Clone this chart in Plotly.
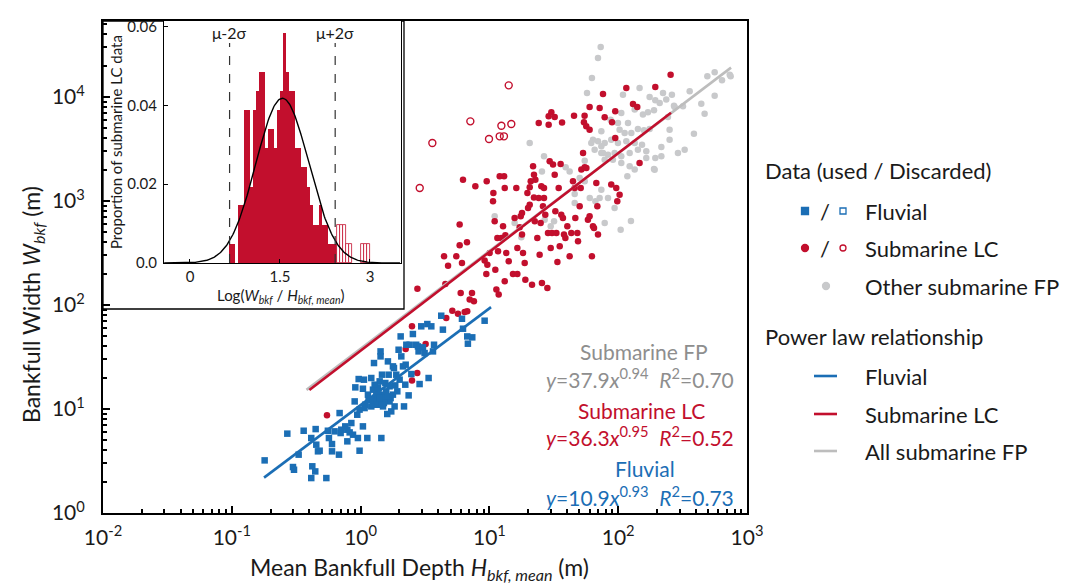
import numpy as np
import plotly.graph_objects as go

W, H = 1068, 585

BLUE = "#1b6eb5"
RED = "#c20f2d"
GRAY_PT = "#c8c9cb"
GRAY_LINE = "#bdbdbd"
GRAY_TXT = "#8e8e8e"
FONT = "Lato"

# ---- scatter data, log10(H_bkf,mean) / log10(W_bkf)
fluvial_logH = [-0.745, -0.569, -0.525, -0.517, -0.481, -0.442, -0.383, -0.375, -0.383, -0.352,
                -0.349, -0.344, -0.331, -0.318, -0.266, -0.254, -0.246, -0.222, -0.222, -0.168,
                -0.163, -0.155, -0.119, -0.103, -0.085, -0.059, -0.046, -0.041, -0.026, -0.015,
                -0.008, 0.018, 0.018, 0.031, 0.036, 0.052, 0.062, 0.083, 0.096, 0.104,
                0.114, 0.122, 0.130, 0.135, 0.140, 0.148, 0.155, 0.155, 0.161, 0.166,
                0.174, 0.174, 0.187, 0.192, 0.199, 0.207, 0.212, 0.218, 0.225, 0.233,
                0.238, 0.251, 0.259, 0.264, 0.269, 0.285, 0.295, 0.303, 0.311, 0.329,
                0.337, 0.347, 0.350, 0.355, 0.373, 0.381, 0.394, 0.406, 0.432, 0.445,
                0.450, 0.458, 0.471, 0.484, 0.497, 0.518, 0.528, 0.549, 0.562, 0.570,
                0.626, 0.639, 0.787, 0.795, 0.828, 0.833, 0.867, 0.963, 0.026, 0.057,
                0.096, 0.122, 0.140, 0.181, 0.212, 0.251, 0.148, 0.166, 0.225, 0.109,
                0.083, -0.008, -0.072, -0.150, -0.202, -0.103, -0.021, 0.316, 0.277]
fluvial_logW = [0.506, 0.763, 0.442, 0.416, 0.561, 0.791, 0.721, 0.449, 0.336, 0.400,
                0.807, 0.657, 0.593, 0.599, 0.336, 0.791, 0.721, 0.663, 0.593, 0.561,
                0.961, 0.769, 0.833, 0.801, 0.775, 0.753, 1.073, 1.208, 0.945, 1.288,
                0.599, 1.195, 0.833, 1.009, 1.041, 0.721, 1.089, 1.298, 1.186, 1.442,
                1.105, 1.154, 1.112, 1.208, 1.073, 1.266, 1.554, 1.506, 0.721, 1.330,
                1.138, 1.025, 1.105, 1.250, 1.170, 0.952, 1.458, 1.330, 1.073, 1.105,
                0.977, 1.410, 1.394, 1.025, 1.227, 1.170, 1.570, 1.282, 1.698, 1.410,
                1.025, 1.234, 1.426, 1.618, 1.131, 1.618, 1.336, 1.721, 1.618, 1.602,
                1.554, 1.240, 1.795, 1.593, 1.538, 1.817, 1.298, 1.795, 1.554, 1.618,
                1.897, 1.763, 1.868, 1.772, 1.698, 1.628, 1.689, 1.849, 1.282, 1.138,
                1.073, 1.041, 1.138, 1.057, 1.122, 1.138, 1.105, 1.041, 1.218, 1.234,
                1.025, 0.994, 0.865, 0.801, 0.785, 0.689, 0.721, 1.506, 1.330]

lc_used_logH = [-0.261, 0.399, 0.350, 0.505, 0.440, 0.399, 0.665, 0.712, 0.756, 0.808, 0.828, 0.880,
                0.441, 0.648, 0.679, 0.658, 0.743, 0.769, 0.769, 0.777, 0.787, 0.795, 0.826, 0.865,
                0.891, 0.963, 0.976, 0.979, 1.002, 1.031, 1.028, 1.041, 1.046, 1.054, 1.062, 1.072,
                1.080, 1.114, 1.106, 1.119, 1.124, 1.131, 1.119, 1.150, 1.183, 1.196, 1.217, 1.209,
                1.217, 1.243, 1.253, 1.261, 1.274, 1.279, 1.295, 1.313, 1.313, 1.321, 1.331, 1.339,
                1.346, 1.346, 1.352, 1.357, 1.372, 1.390, 1.398, 1.403, 1.408, 1.416, 1.424, 1.434,
                1.450, 1.455, 1.468, 1.476, 1.486, 1.494, 1.507, 1.512, 1.520, 1.528, 1.538, 1.546,
                1.553, 1.558, 1.571, 1.579, 1.590, 1.605, 1.623, 1.636, 1.649, 1.662, 1.667, 1.683,
                1.688, 1.701, 1.709, 1.714, 1.727, 1.740, 1.753, 1.765, 1.778, 1.796, 1.804, 1.812,
                1.830, 1.838, 1.843, 1.383, 1.424, 1.300, 1.235, 1.253, 1.093, 1.067, 0.984, 0.847,
                2.407, 2.288, 2.063, 1.882, 2.115, 2.148, 1.778, 1.856, 1.657, 1.739, 1.977, 1.895,
                1.734, 1.752, 1.778, 1.952, 1.977, 2.166, 1.946, 1.985, 2.011, 1.993,
                1.383, 1.460, 1.460, 1.481, 1.507, 1.564]
lc_used_logW = [0.939, 1.795, 1.577, 1.625, 1.346, 1.275, 1.875, 1.945, 1.916, 1.932, 1.939, 2.035,
                2.157, 2.468, 2.378, 2.202, 2.468, 2.773, 2.574, 2.116, 2.404, 3.205, 2.603, 2.116,
                3.141, 2.427, 2.298, 3.189, 2.500, 3.077, 2.997, 2.805, 2.340, 2.148, 2.644, 2.100,
                3.237, 3.237, 2.757, 3.125, 2.670, 2.500, 2.228, 2.420, 2.298, 2.837, 2.298, 3.125,
                2.548, 2.853, 2.885, 2.500, 2.404, 2.244, 3.077, 2.965, 3.132, 3.189, 2.196, 3.334,
                3.253, 3.035, 2.805, 3.205, 2.644, 2.484, 2.789, 3.141, 2.212, 2.949, 3.029, 2.869,
                2.164, 2.693, 3.382, 2.548, 2.693, 3.350, 3.253, 2.901, 2.693, 2.414, 3.125, 2.564,
                3.356, 2.869, 2.837, 2.677, 2.644, 2.757, 2.468, 2.693, 3.189, 3.125, 2.837, 2.693,
                2.612, 2.949, 3.125, 3.302, 3.462, 3.324, 3.317, 2.821, 2.853, 2.468, 2.757, 2.741,
                3.173, 2.949, 2.677, 3.029, 3.125, 2.933, 2.747, 2.677, 2.644, 2.516, 2.388, 2.052,
                4.215, 4.097, 4.087, 4.029, 3.933, 3.904, 3.904, 3.894, 3.821, 3.821, 3.863, 3.805,
                3.757, 3.718, 3.686, 3.757, 3.606, 3.366, 3.158, 3.125, 3.061, 2.997,
                3.750, 3.734, 3.814, 3.853, 3.808, 3.756]

lc_disc_logH = [1.150, 0.852, 1.093, 1.170, 0.997, 1.080, 1.113, 0.557, 0.459]
lc_disc_logW = [4.112, 3.766, 3.724, 3.740, 3.596, 3.622, 3.622, 3.558, 3.125]

fp_other_logH = [1.864, 1.843, 1.796, 1.758, 2.037, 2.166, 2.244, 2.288, 2.348, 2.417, 2.322, 2.278,
                 2.231, 2.192, 2.128, 2.076, 2.024, 1.998, 1.941, 1.869, 2.011, 2.050, 2.102, 2.153,
                 2.200, 2.244, 1.804, 1.843, 1.895, 1.946, 1.998, 2.063, 2.128, 2.185, 1.817, 1.869,
                 1.921, 1.972, 2.024, 2.089, 2.153, 2.218, 1.895, 1.959, 2.024, 2.089, 2.128, 2.071,
                 2.278, 2.218, 2.288, 2.335, 2.335, 2.399, 2.399, 2.386, 2.438, 2.503, 2.555, 2.645,
                 2.671, 2.692, 2.749, 2.806, 2.873, 2.749, 2.588, 2.516, 2.464, 2.433, 2.373, 1.921,
                 1.972, 1.869, 1.313, 1.424, 1.408, 1.592, 1.623, 1.740, 1.791, 1.882, 1.869, 1.701,
                 1.740, 1.779, 1.823, 1.856, 1.662, 1.041, 1.196, 1.248, 1.476, 1.429, 1.502, 1.662,
                 2.099, 2.019, 1.895, 2.283, 2.866]
fp_other_logW = [4.481, 4.375, 4.183, 4.039, 4.023, 4.087, 4.000, 3.968, 4.039, 4.023, 3.943, 3.872,
                 3.853, 3.831, 3.879, 3.750, 3.847, 3.750, 3.782, 3.670, 3.686, 3.654, 3.654, 3.693,
                 3.680, 3.693, 3.590, 3.574, 3.558, 3.590, 3.558, 3.574, 3.558, 3.542, 3.494, 3.462,
                 3.446, 3.462, 3.430, 3.462, 3.494, 3.478, 3.398, 3.398, 3.366, 3.334, 3.302, 3.238,
                 3.308, 3.414, 3.414, 3.430, 3.520, 3.590, 3.686, 3.808, 3.904, 3.911, 4.055, 3.936,
                 3.840, 4.199, 4.238, 4.161, 4.199, 4.013, 3.648, 3.494, 3.462, 3.917, 3.975, 3.029,
                 2.933, 3.109, 3.558, 3.430, 3.285, 3.324, 3.285, 3.388, 3.558, 3.462, 3.526, 3.221,
                 3.189, 3.029, 2.997, 3.029, 3.067, 2.853, 2.789, 2.651, 2.757, 2.821, 2.805, 2.981,
                 2.808, 2.724, 2.788, 3.301, 4.215]

# ---- power law fits W = a * H^b and the H range each line is drawn over
fit_fluvial = dict(a=10.9, b=0.93, r2=0.73, hmin=0.178, hmax=10.3)
fit_lc = dict(a=36.3, b=0.95, r2=0.52, hmin=0.40, hmax=257.0)
fit_fp = dict(a=37.9, b=0.94, r2=0.70, hmin=0.38, hmax=752.0)

# ---- inset histogram of log(W/H) for submarine LC data (proportion per 0.05 bin)
bin_w = 0.05
lc_bin_left = [0.65, 0.70, 0.75, 0.80, 0.85, 0.90, 0.95, 1.00, 1.05, 1.10, 1.15, 1.20,
               1.25, 1.30, 1.35, 1.40, 1.45, 1.50, 1.55, 1.60, 1.65, 1.70, 1.75, 1.80,
               1.85, 1.90, 1.95, 2.00, 2.05, 2.10, 2.15, 2.20, 2.25, 2.30, 2.35, 2.40]
lc_prop_used = [0.0049, 0.0049, 0.0, 0.0146, 0.0146, 0.0388, 0.0388, 0.0194, 0.0388, 0.0437, 0.0485, 0.0485,
                0.0291, 0.0340, 0.0340, 0.0291, 0.0388, 0.0437, 0.0583, 0.0485, 0.0437, 0.0437, 0.0291, 0.0291,
                0.0243, 0.0243, 0.0194, 0.0146, 0.0097, 0.0097, 0.0146, 0.0097, 0.0097, 0.0049, 0.0049, 0.0049]
disc_bin_left = [2.45, 2.50, 2.55, 2.60, 2.65, 2.85, 2.90, 2.95]
disc_prop = [0.0097, 0.0097, 0.0097, 0.0049, 0.0049, 0.0049, 0.0049, 0.0049]
lc_mu, lc_sigma, lc_peak = 1.54, 0.44, 0.0418

# ---- geometry (pixels in the 1068x585 canvas)
MAIN_X = (95, 739)
MAIN_Y = (13, 505)
INSET_X = (156, 393)
INSET_Y = (13, 255)
BOX = (95, 13, 396, 301)


def px(x):
    return x / W


def py(y):
    return 1 - y / H


def p10(v):
    return np.power(10.0, np.array(v))


fig = go.Figure()

# main scatter
fig.add_trace(go.Scatter(x=p10(fp_other_logH), y=p10(fp_other_logW), mode="markers",
                         marker=dict(symbol="circle", size=6.5, color=GRAY_PT)))
fig.add_trace(go.Scatter(x=p10(lc_used_logH), y=p10(lc_used_logW), mode="markers",
                         marker=dict(symbol="circle", size=6.5, color=RED)))
fig.add_trace(go.Scatter(x=p10(lc_disc_logH), y=p10(lc_disc_logW), mode="markers",
                         marker=dict(symbol="circle-open", size=7, color=RED, line=dict(width=1.4))))
fig.add_trace(go.Scatter(x=p10(fluvial_logH), y=p10(fluvial_logW), mode="markers",
                         marker=dict(symbol="square", size=6.5, color=BLUE)))

for fit, col in [(fit_fp, GRAY_LINE), (fit_lc, RED), (fit_fluvial, BLUE)]:
    hx = np.array([fit["hmin"], fit["hmax"]])
    fig.add_trace(go.Scatter(x=hx, y=fit["a"] * hx ** fit["b"], mode="lines",
                             line=dict(color=col, width=2.6)))

# inset histogram
fig.add_trace(go.Bar(x=lc_bin_left, y=lc_prop_used, width=bin_w, offset=0,
                     marker=dict(color=RED, line=dict(width=0)),
                     xaxis="x2", yaxis="y2"))
fig.add_trace(go.Bar(x=disc_bin_left, y=disc_prop, width=bin_w, offset=0,
                     marker=dict(color="white", line=dict(color=RED, width=0.8)),
                     xaxis="x2", yaxis="y2"))
gx = np.linspace(-0.43, 3.5, 300)
fig.add_trace(go.Scatter(x=gx, y=lc_peak * np.exp(-0.5 * ((gx - lc_mu) / lc_sigma) ** 2),
                         mode="lines", line=dict(color="black", width=1.4),
                         xaxis="x2", yaxis="y2"))

shapes = []
# white box behind the inset
shapes.append(dict(type="rect", xref="paper", yref="paper", layer="below",
                   x0=px(BOX[0]), x1=px(BOX[2]), y0=py(BOX[3]), y1=py(BOX[1]),
                   fillcolor="white", line=dict(color="black", width=1.3)))
for k in (-2, 2):
    xv = lc_mu + k * lc_sigma
    shapes.append(dict(type="line", xref="x2", yref="y2", x0=xv, x1=xv, y0=0, y1=0.0558,
                       line=dict(color="#333333", width=1.2, dash="dash")))

annotations = []


def ann(text, x, y, size, color="#1a1a1a", xanchor="center", angle=0, xref="paper", yref="paper"):
    annotations.append(dict(text=text, x=px(x) if xref == "paper" else x,
                            y=py(y) if yref == "paper" else y,
                            xref=xref, yref=yref, xanchor=xanchor, yanchor="middle",
                            showarrow=False, textangle=angle,
                            font=dict(family=FONT, size=size, color=color)))


ann("μ-2σ", lc_mu - 2 * lc_sigma, 0.0585, 16, xref="x2", yref="y2")
ann("μ+2σ", lc_mu + 2 * lc_sigma, 0.0585, 16, xref="x2", yref="y2")

# axis titles
ann("Bankfull Width <i>W</i><sub><i>bkf</i></sub> (m)", 24, 297, 23, angle=-90)
ann("Mean Bankfull Depth <i>H</i><sub><i>bkf, mean</i></sub> (m)", 411, 560, 23)
ann("Proportion of submarine LC data", 108, 134, 15, angle=-90)
ann("Log(<i>W</i><sub><i>bkf</i></sub> / <i>H</i><sub><i>bkf, mean</i></sub>)", 272, 288, 15)

# fit labels
def eq(fit):
    return ("<i>y</i>=%.1f<i>x</i><sup>%.2f</sup>&nbsp;&nbsp;<i>R</i><sup>2</sup>=%.2f"
            % (fit["a"], fit["b"], fit["r2"]))


FIT = 21
ann("Submarine FP", 636, 343, FIT, GRAY_TXT)
ann(eq(fit_fp), 632, 370, FIT, GRAY_TXT)
ann("Submarine LC", 633, 402, FIT, RED)
ann(eq(fit_lc), 632, 428, FIT, RED)
ann("Fluvial", 637, 460, FIT, BLUE)
ann(eq(fit_fluvial), 632, 488, FIT, BLUE)

# hand-built legend
LEG = 22
ann("Data (used / Discarded)", 755, 162, LEG, xanchor="left")
ann("Power law relationship", 755, 328, LEG, xanchor="left")
for text, yy in [("Fluvial", 203), ("Submarine LC", 240), ("Other submarine FP", 278),
                 ("Fluvial", 368), ("Submarine LC", 406), ("All submarine FP", 443)]:
    ann(text, 855, yy, LEG, xanchor="left")
ann("/", 817, 203, LEG)
ann("/", 817, 240, LEG)


def key(kind, x, y, s, color, filled=True):
    d = dict(type=kind, xref="paper", yref="paper",
             x0=px(x - s / 2), x1=px(x + s / 2), y0=py(y + s / 2), y1=py(y - s / 2),
             line=dict(color=color, width=1.3))
    if filled:
        d["fillcolor"] = color
    shapes.append(d)


key("rect", 797, 203, 7, BLUE)
key("rect", 835, 203, 6, BLUE, filled=False)
key("circle", 797, 240, 7, RED)
key("circle", 835, 240, 6, RED, filled=False)
key("circle", 818, 278, 7, GRAY_PT)
for yy, col in [(368, BLUE), (406, RED), (443, GRAY_LINE)]:
    shapes.append(dict(type="line", xref="paper", yref="paper", x0=px(806), x1=px(829),
                       y0=py(yy), y1=py(yy), line=dict(color=col, width=2.6)))

major = [0.01, 0.1, 1, 10, 100, 1000]
minor_x = [m * 10.0 ** e for e in range(-2, 3) for m in range(2, 10)]
minor_y = [m * 10.0 ** e for e in range(0, 5) for m in range(2, 10)]

axis_common = dict(showgrid=False, zeroline=False, showline=True, linecolor="black",
                   mirror=True, ticks="inside", tickcolor="black", automargin=False)
main_font = dict(family=FONT, size=21, color="#1a1a1a")
inset_font = dict(family=FONT, size=15, color="#1a1a1a")

fig.update_layout(
    width=W, height=H,
    margin=dict(l=0, r=0, t=0, b=0),
    paper_bgcolor="white", plot_bgcolor="white",
    showlegend=False, bargap=0,
    font=dict(family=FONT, color="#1a1a1a"),
    xaxis=dict(type="log", domain=[px(MAIN_X[0]), px(MAIN_X[1])], range=[-2, 3],
               tickvals=major, ticktext=["10<sup>%d</sup>" % e for e in range(-2, 4)],
               ticklen=7, tickwidth=1.5, linewidth=2, tickfont=main_font, ticklabelstandoff=5,
               minor=dict(tickvals=minor_x, ticks="inside", ticklen=4, tickcolor="black"),
               **axis_common),
    yaxis=dict(type="log", domain=[py(MAIN_Y[1]), py(MAIN_Y[0])], range=[0, 4.731],
               tickvals=[1, 10, 100, 1000, 10000],
               ticktext=["10<sup>%d</sup>" % e for e in range(0, 5)],
               ticklen=7, tickwidth=1.5, linewidth=2, tickfont=main_font, ticklabelstandoff=12,
               minor=dict(tickvals=minor_y, ticks="inside", ticklen=4, tickcolor="black"),
               **axis_common),
    xaxis2=dict(domain=[px(INSET_X[0]), px(INSET_X[1])], range=[-0.433, 3.517], anchor="y2",
                tickvals=[0, 1.5, 3], ticktext=["0", "1.5", "3"], ticklen=4, linewidth=1.2,
                tickfont=inset_font, **axis_common),
    yaxis2=dict(domain=[py(INSET_Y[1]), py(INSET_Y[0])], range=[0, 0.0614], anchor="x2",
                tickvals=[0, 0.02, 0.04, 0.06], ticktext=["0.0", "0.02", "0.04", "0.06"],
                ticklen=4, linewidth=1.2, tickfont=inset_font, ticklabelstandoff=3,
                **axis_common),
    shapes=shapes,
    annotations=annotations,
)

fig.write_html("out.html")
